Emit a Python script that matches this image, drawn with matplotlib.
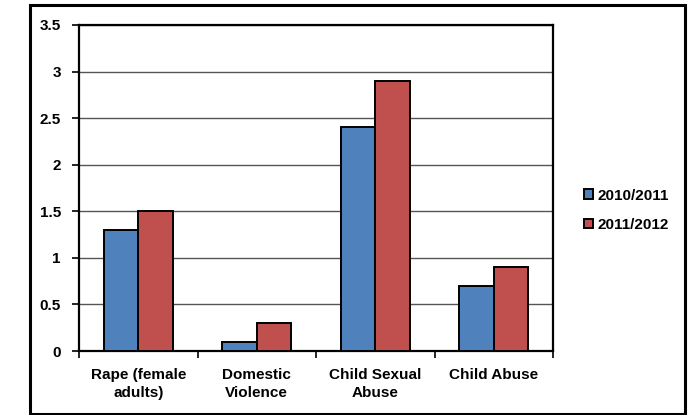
import matplotlib
matplotlib.use("Agg")
import matplotlib.pyplot as plt
from matplotlib.patches import Rectangle
import numpy as np

categories = ["Rape (female\nadults)", "Domestic\nViolence", "Child Sexual\nAbuse", "Child Abuse"]
series_names = ["2010/2011", "2011/2012"]
values_2010 = [1.3, 0.1, 2.4, 0.7]
values_2011 = [1.5, 0.3, 2.9, 0.9]
y_ticks = [0, 0.5, 1, 1.5, 2, 2.5, 3, 3.5]
y_tick_labels = ["0", "0.5", "1", "1.5", "2", "2.5", "3", "3.5"]

colors = ["#4F81BD", "#C0504D"]

plt.rcParams["font.family"] = ["Liberation Sans", "DejaVu Sans"]
FS = 11
FW = "bold"

W, H = 696, 415
fig = plt.figure(figsize=(W / 100, H / 100), dpi=100)

# outer chart border
fig.patches.append(Rectangle((30 / W, 1 - 414 / H), (685 - 30) / W, (414 - 5) / H,
                             transform=fig.transFigure, fill=False,
                             edgecolor="black", linewidth=2.2, zorder=0))

left, right, top, bottom = 79, 553, 25, 351
ax = fig.add_axes([left / W, 1 - bottom / H, (right - left) / W, (bottom - top) / H])

x = np.arange(len(categories))
bw = 0.29
ax.bar(x - bw / 2, values_2010, width=bw, color=colors[0], edgecolor="black",
       linewidth=1.4, label=series_names[0], zorder=3)
ax.bar(x + bw / 2, values_2011, width=bw, color=colors[1], edgecolor="black",
       linewidth=1.4, label=series_names[1], zorder=3)

ax.set_xlim(-0.5, len(categories) - 0.5)
ax.set_ylim(0, 3.5)
ax.set_yticks(y_ticks)
ax.set_yticklabels(y_tick_labels, fontsize=FS, fontweight=FW)
ax.set_xticks(x)
ax.set_xticklabels(categories, fontsize=FS, fontweight=FW, linespacing=1.4)
ax.set_xticks(np.arange(-0.5, len(categories)), minor=True)
ax.tick_params(axis="x", which="major", length=0, pad=12)
ax.tick_params(axis="x", which="minor", length=5, width=1.2, direction="out")
ax.tick_params(axis="y", length=5, width=1.2, direction="out", pad=8)

ax.yaxis.grid(True, color="#555555", linewidth=1.0, zorder=0)
ax.set_axisbelow(True)
for s in ax.spines.values():
    s.set_linewidth(1.6)
    s.set_color("black")

leg = ax.legend(loc="center left", bbox_to_anchor=((578 - left) / (right - left), 0.432),
                frameon=False, prop={"size": FS, "weight": FW},
                handlelength=0.6, handleheight=0.6, handletextpad=0.3,
                labelspacing=1.0, borderaxespad=0)
for h in leg.legend_handles:
    h.set_edgecolor("black")
    h.set_linewidth(1.4)

fig.savefig("out.png", dpi=100)
